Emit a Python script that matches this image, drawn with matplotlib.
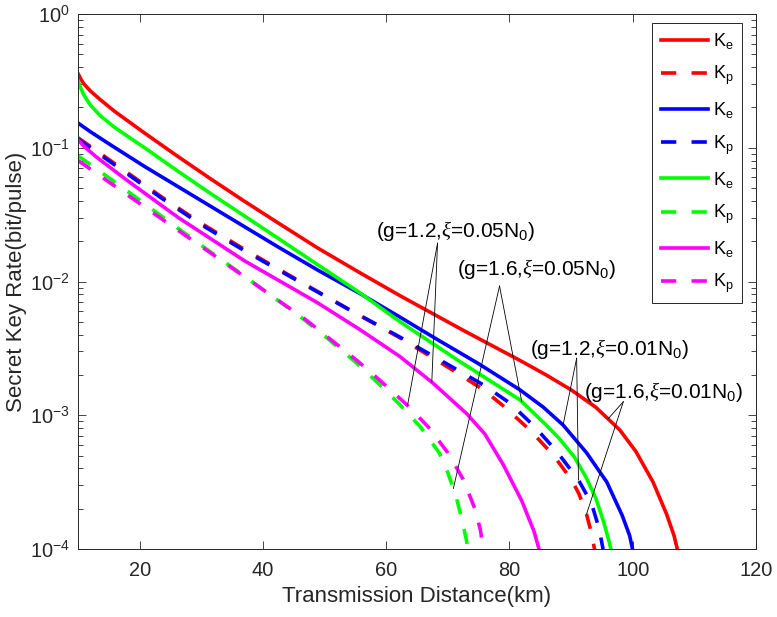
import matplotlib
matplotlib.use('Agg')
import matplotlib.pyplot as plt
import numpy as np
from matplotlib.ticker import LogLocator, NullFormatter, FixedLocator

plt.rcParams['font.family'] = ['Liberation Sans', 'DejaVu Sans']
plt.rcParams['mathtext.fontset'] = 'custom'
plt.rcParams['mathtext.rm'] = 'Liberation Sans'
plt.rcParams['mathtext.it'] = 'Liberation Serif:italic'
plt.rcParams['mathtext.default'] = 'regular'
plt.rcParams['lines.scale_dashes'] = False

# ---------------- data (key rate as log10 values) ----------------
d_red_e = [10, 10.5, 11, 12, 13.6, 16, 20.8, 26.2, 31.6, 37, 42.4, 48.9, 55.75, 62.2, 72.5, 81.7,
           86, 90, 94, 97.9, 100.5, 103.3, 105.5, 106.7, 107.5]
lg_red_e = [-0.445, -0.49, -0.525, -0.575, -0.64, -0.73, -0.89, -1.065, -1.235, -1.40, -1.56, -1.75,
            -1.935, -2.105, -2.365, -2.59, -2.70, -2.81, -2.94, -3.11, -3.27, -3.50, -3.74, -3.90, -4.05]

d_red_p = [10, 16, 23.5, 30, 37, 46.8, 53.6, 62.2, 70, 75.8, 79, 83.3, 87.1, 90.1, 91.3, 92.5, 93.3, 93.8, 94.0]
lg_red_p = [-0.925, -1.12, -1.366, -1.565, -1.76, -2.02, -2.20, -2.42, -2.64, -2.81, -2.93, -3.11,
            -3.297, -3.484, -3.59, -3.74, -3.88, -4.0, -4.06]

d_blue_e = [10, 12, 15, 20.8, 26.2, 31.6, 37, 42.4, 48.9, 55.75, 62.2, 67.6, 75, 81.7, 85.5, 88.7,
            92.5, 95.8, 98.3, 99.5, 100.2]
lg_blue_e = [-0.815, -0.88, -0.97, -1.14, -1.29, -1.44, -1.59, -1.74, -1.915, -2.09, -2.265, -2.415,
             -2.615, -2.81, -2.94, -3.073, -3.28, -3.50, -3.75, -3.90, -4.05]

d_blue_p = [10, 16, 23.5, 30, 37, 46.8, 53.6, 62.2, 70, 75.8, 80.1, 84.1, 87.7, 91.2, 93.3, 94.5, 95.1, 95.4]
lg_blue_p = [-0.935, -1.13, -1.375, -1.575, -1.77, -2.025, -2.20, -2.415, -2.62, -2.774, -2.91, -3.086,
             -3.272, -3.484, -3.658, -3.84, -3.98, -4.06]

d_green_e = [10, 10.5, 11, 12, 13.6, 16, 20.8, 26.2, 31.6, 37, 42.4, 48.9, 55.75, 62.2, 72, 81.7,
             86, 88, 90.5, 92.5, 94, 95.3, 96.2, 96.7]
lg_green_e = [-0.50, -0.56, -0.61, -0.68, -0.76, -0.85, -1.00, -1.175, -1.345, -1.51, -1.675, -1.875,
              -2.085, -2.30, -2.60, -2.885, -3.075, -3.17, -3.31, -3.47, -3.62, -3.80, -3.95, -4.05]

d_green_p = [10, 17, 23.5, 30, 37, 45.7, 50.1, 54.7, 58.7, 62.2, 65.6, 68.6, 70.0, 71.3, 72.3, 73.0, 73.5]
lg_green_p = [-1.06, -1.29, -1.51, -1.73, -1.96, -2.25, -2.41, -2.59, -2.76, -2.92, -3.09, -3.28,
              -3.43, -3.60, -3.78, -3.93, -4.05]

d_mag_e = [10, 11, 13, 18, 26.2, 37, 48.9, 55.75, 62.2, 67.6, 73.1, 76, 79, 82, 84, 85.1]
lg_mag_e = [-0.94, -0.99, -1.07, -1.245, -1.52, -1.845, -2.16, -2.36, -2.56, -2.76, -2.99, -3.14,
            -3.37, -3.64, -3.87, -4.05]

d_mag_p = [10, 17, 24.6, 31, 38.1, 46.8, 50.9, 55.5, 59.5, 63.3, 66.8, 70, 72.5, 74.4, 75.3, 75.9]
lg_mag_p = [-1.095, -1.32, -1.565, -1.77, -2.0, -2.28, -2.43, -2.60, -2.76, -2.92, -3.086, -3.28,
            -3.48, -3.70, -3.86, -4.05]

series = [
    ('K$_e$', d_red_e, lg_red_e, '#ff0000', False),
    ('K$_p$', d_red_p, lg_red_p, '#ff0000', True),
    ('K$_e$', d_blue_e, lg_blue_e, '#0000ff', False),
    ('K$_p$', d_blue_p, lg_blue_p, '#0000ff', True),
    ('K$_e$', d_green_e, lg_green_e, '#00ff00', False),
    ('K$_p$', d_green_p, lg_green_p, '#00ff00', True),
    ('K$_e$', d_mag_e, lg_mag_e, '#ff00ff', False),
    ('K$_p$', d_mag_p, lg_mag_p, '#ff00ff', True),
]

x_ticks = [20, 40, 60, 80, 100, 120]

# ---------------- figure ----------------
fig = plt.figure(figsize=(7.77, 6.17), dpi=100)
ax = fig.add_axes([78 / 777, 68 / 617, 678 / 777, 535 / 617])
axc = '#262626'

for lab, d, lg, c, dashed in series:
    k = np.power(10.0, lg)
    if dashed:
        ax.plot(d, k, color=c, lw=2.6, dashes=(11, 11), label=lab)
    else:
        ax.plot(d, k, color=c, lw=2.6, label=lab)

ax.set_yscale('log')
ax.set_xlim(10, 120)
ax.set_ylim(1e-4, 1)
ax.xaxis.set_major_locator(FixedLocator(x_ticks))
ax.yaxis.set_major_locator(LogLocator(base=10, numticks=10))
ax.yaxis.set_minor_locator(LogLocator(base=10, subs=np.arange(2, 10), numticks=20))
ax.yaxis.set_minor_formatter(NullFormatter())

ax.tick_params(which='both', direction='in', top=True, right=True, colors=axc, width=0.6)
ax.tick_params(which='major', length=5.5, labelsize=14.4, pad=6)
ax.tick_params(which='minor', length=3.5)
ax.tick_params(axis='x', pad=9)
for s in ax.spines.values():
    s.set_color(axc)
    s.set_linewidth(0.7)

ax.set_xlabel('Transmission Distance(km)', fontsize=16, color=axc, labelpad=4)
ax.set_ylabel('Secret Key Rate(bit/pulse)', fontsize=16, color=axc, labelpad=2)

leg = ax.legend(loc='upper right', bbox_to_anchor=(0.979, 0.983), borderaxespad=0,
                fontsize=13, handlelength=2.6, handletextpad=0.3, borderpad=0.45,
                labelspacing=0.72, fancybox=False, framealpha=1)
leg.get_frame().set_edgecolor(axc)
leg.get_frame().set_linewidth(0.7)


# ---------------- annotations ----------------
def curve_at(d, lg, x):
    return 10 ** np.interp(x, d, lg)

annots = [
    (r'(g=1.2,$\mathit{\xi}$=0.05N$_0$)', (71.2, 10 ** -1.670), (68.33, 10 ** -1.714),
     [(d_mag_p, lg_mag_p, 63.46), (d_mag_e, lg_mag_e, 67.4)]),
    (r'(g=1.6,$\mathit{\xi}$=0.05N$_0$)', (84.4, 10 ** -1.951), (78.39, 10 ** -2.034),
     [(d_green_p, lg_green_p, 70.9), (d_green_e, lg_green_e, 82.0)]),
    (r'(g=1.2,$\mathit{\xi}$=0.01N$_0$)', (96.3, 10 ** -2.549), (90.9, 10 ** -2.574),
     [(d_blue_e, lg_blue_e, 88.7), (d_blue_p, lg_blue_p, 91.2)]),
    (r'(g=1.6,$\mathit{\xi}$=0.01N$_0$)', (105.0, 10 ** -2.873), (98.47, 10 ** -2.899),
     [(d_red_e, lg_red_e, 96.0), (d_red_p, lg_red_p, 92.5)]),
]
for txt, tpos, apex, targets in annots:
    ax.text(tpos[0], tpos[1], txt, ha='center', va='baseline', fontsize=15, color='#000000')
    for d, lg, x in targets:
        ax.plot([apex[0], x], [apex[1], curve_at(d, lg, x)], color='black', lw=0.6)

fig.savefig('out.png', dpi=100)
